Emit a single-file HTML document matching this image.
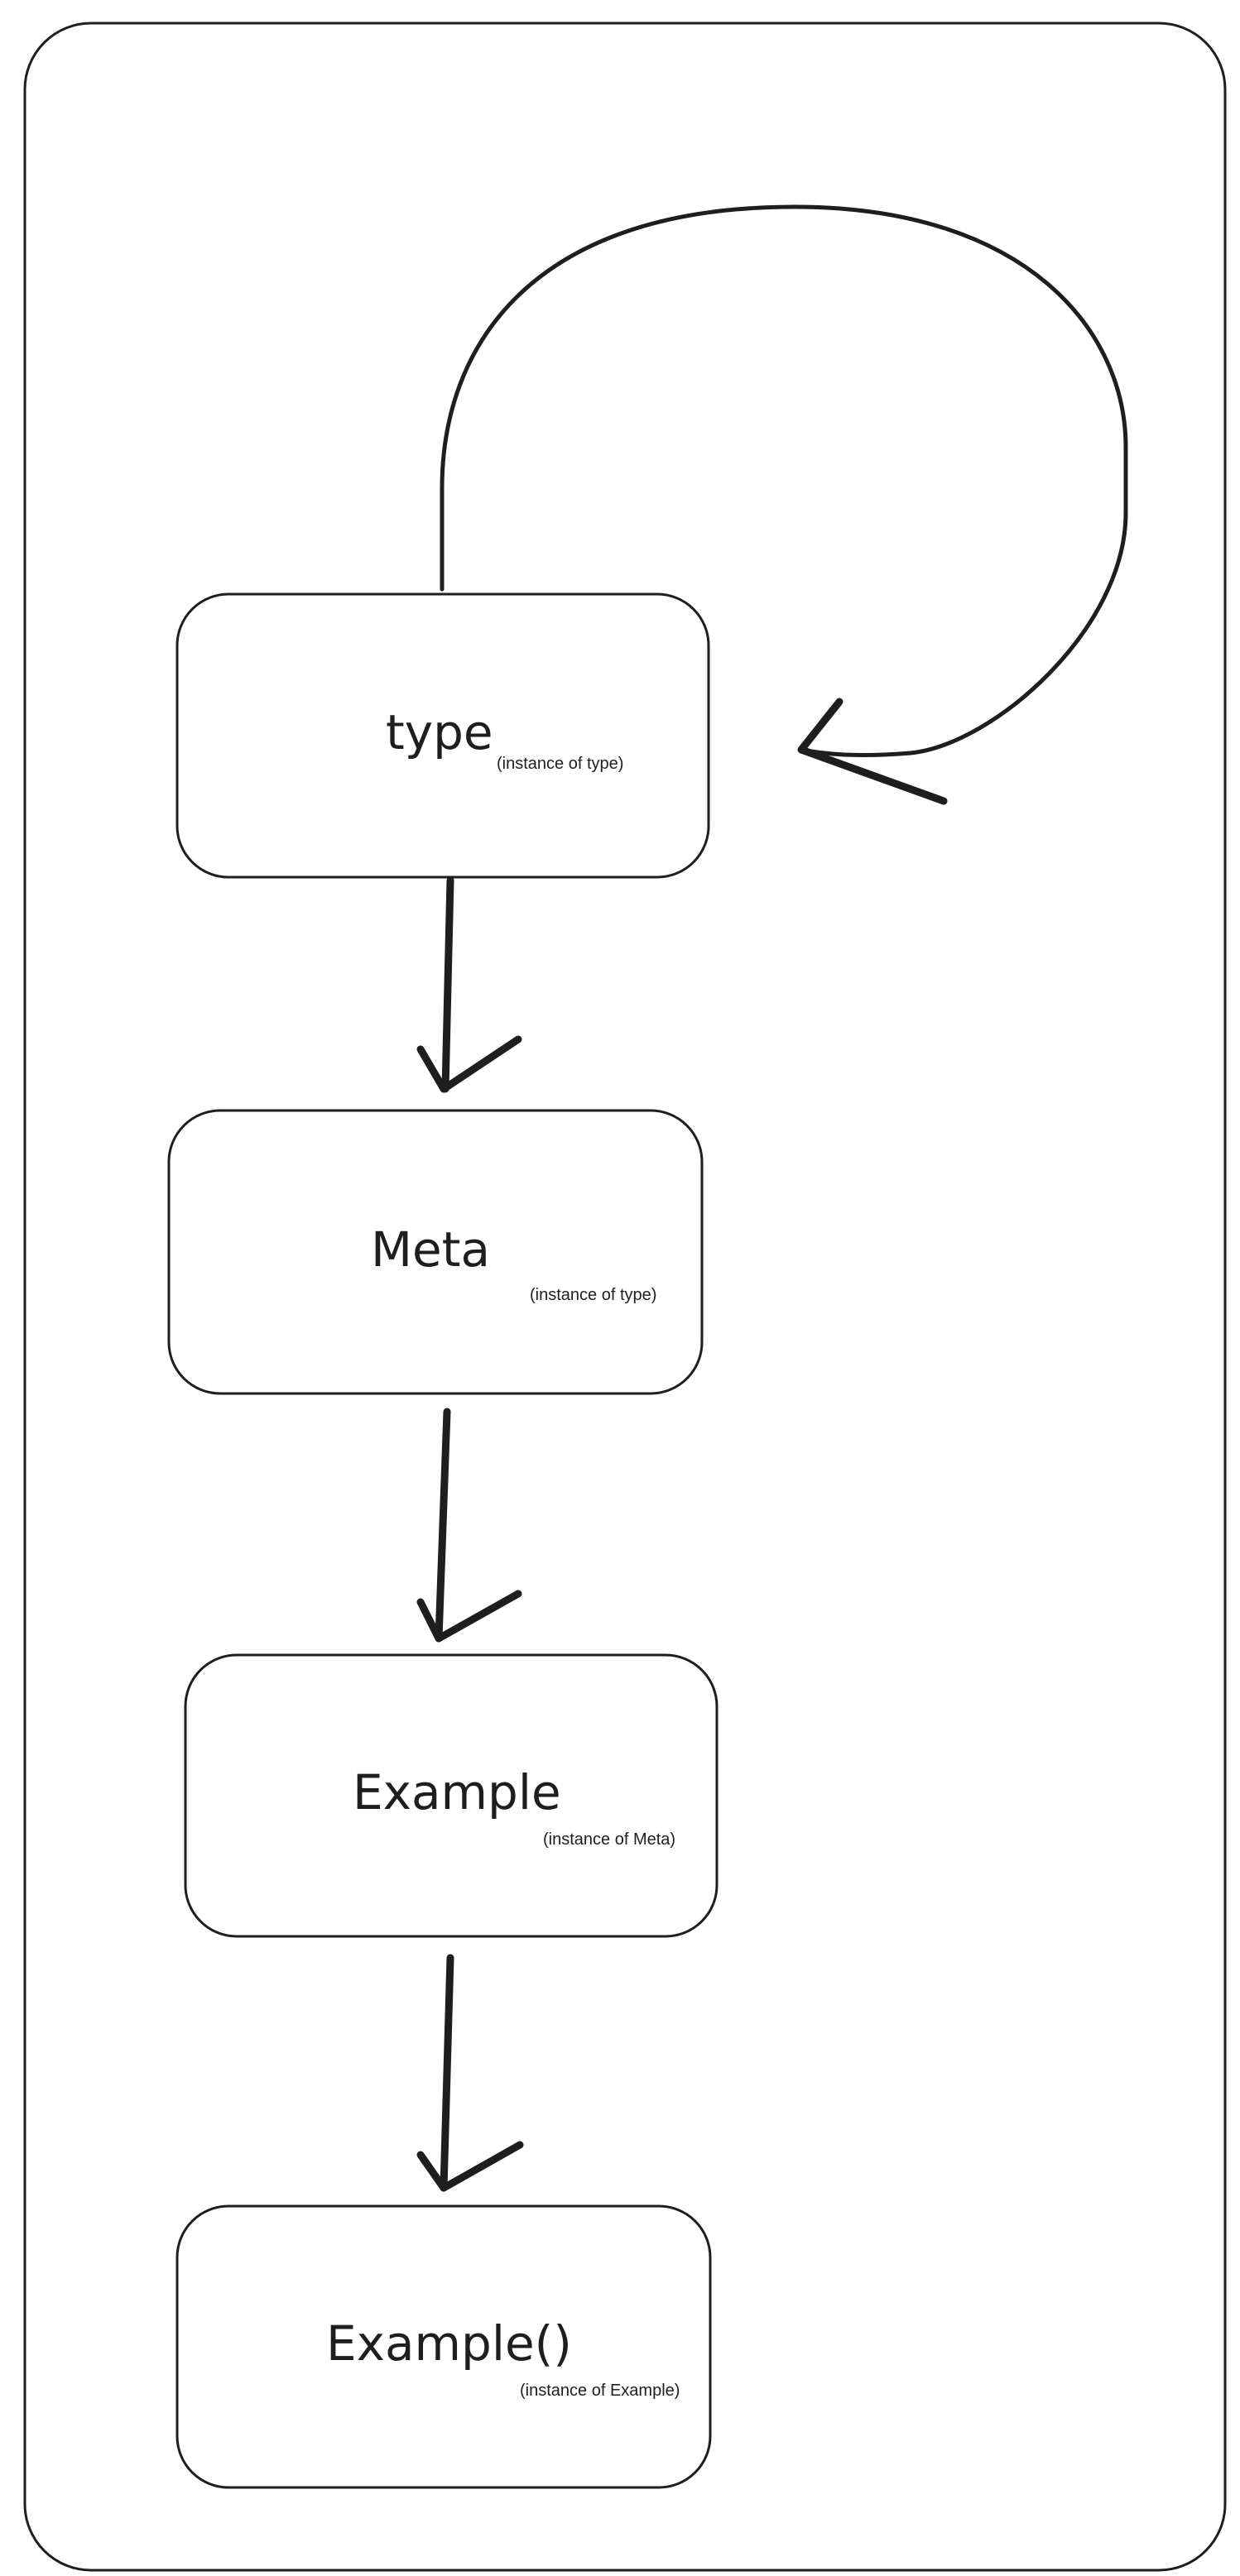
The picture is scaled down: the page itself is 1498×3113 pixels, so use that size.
<!DOCTYPE html>
<html><head><meta charset="utf-8"><style>
html,body{margin:0;padding:0;background:#fff}
svg{display:block}
.m{font-family:"Comic Sans MS","DejaVu Sans","Liberation Sans",sans-serif;font-size:58px;fill:#1e1e1e}
.s{font-family:"Liberation Sans",sans-serif;font-size:20px;fill:#1e1e1e}
</style></head><body>
<svg width="1498" height="3113" viewBox="0 0 1498 3113" xmlns="http://www.w3.org/2000/svg">
<g fill="none" stroke="#1e1e1e" stroke-linecap="round" stroke-linejoin="round">
<rect x="30" y="28" width="1450" height="3078" rx="80" stroke-width="3"/>
<rect x="214" y="718" width="642" height="342" rx="62" stroke-width="3"/>
<rect x="204" y="1342" width="644" height="342" rx="62" stroke-width="3"/>
<rect x="224" y="2000" width="642" height="340" rx="62" stroke-width="3"/>
<rect x="214" y="2666" width="644" height="340" rx="62" stroke-width="3"/>
<path d="M534 712 L534 590 C534 420 640 250 960 250 C1240 250 1360 400 1360 540 L1360 620 C1360 760 1200 900 1100 910 C1040 915 1000 912 968 906" stroke-width="5"/>
<path d="M1014 848 L968 906 L1140 968" stroke-width="9"/>
<path d="M544 1064 L538 1316" stroke-width="9"/>
<path d="M508 1268 L536 1316 L626 1256" stroke-width="9"/>
<path d="M540 1706 L530 1980" stroke-width="9"/>
<path d="M508 1936 L530 1980 L626 1926" stroke-width="9"/>
<path d="M544 2366 L536 2644" stroke-width="9"/>
<path d="M508 2604 L536 2644 L628 2592" stroke-width="9"/>
</g>
<text class="m" x="466" y="905">type</text>
<text class="s" x="600" y="929">(instance of type)</text>
<text class="m" x="448" y="1530">Meta</text>
<text class="s" x="640" y="1571">(instance of type)</text>
<text class="m" x="426" y="2186">Example</text>
<text class="s" x="656" y="2229">(instance of Meta)</text>
<text class="m" x="394" y="2852">Example()</text>
<text class="s" x="628" y="2895">(instance of Example)</text>
</svg>
</body></html>
